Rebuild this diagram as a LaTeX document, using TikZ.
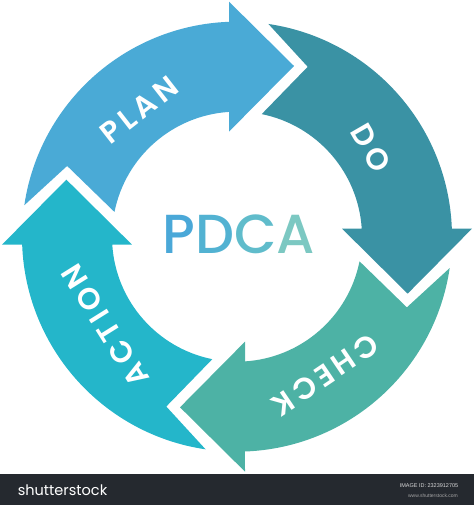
\documentclass[tikz,border=0pt]{standalone}
\usepackage{fontspec}
\newfontfamily\pop{Poppins}
\newfontfamily\popm{Poppins Medium}
\newfontfamily\popls{Poppins SemiBold}[LetterSpace=15]
\newfontfamily\libsans{Liberation Sans}
\definecolor{planc}{HTML}{4AAAD6}
\definecolor{doc}{HTML}{3A92A4}
\definecolor{checkc}{HTML}{4DB2A5}
\definecolor{actc}{HTML}{24B6CA}
\definecolor{pc}{HTML}{4AA8D8}
\definecolor{dc}{HTML}{52B2D2}
\definecolor{cc}{HTML}{60BCCB}
\definecolor{ac}{HTML}{7CC8C2}
\definecolor{barc}{HTML}{25292F}
\tikzset{
  lbl/.style={text=white, font=\popls\fontsize{30}{30}\selectfont, inner sep=0pt},
  bigtxt/.style={font=\popm\fontsize{55}{55}\selectfont, inner sep=0pt},
}
\begin{document}
\begin{tikzpicture}[x=1pt,y=1pt]
\useasboundingbox (-237,236.65) rectangle (237,-268.35);
\foreach \r/\c in {0/planc,-90/doc,-180/checkc,90/actc}{
  \fill[\c, rotate=\r] (171.6:215) arc[start angle=171.6,end angle=92.13,radius=215]
    -- (-8,235) -- (57,170.65) -- (-8,105) -- (93.67:125)
    arc[start angle=93.67,end angle=168.6,radius=125] -- (157.4:184) -- cycle;
}
\node[lbl, rotate=38] (plan) at (127.7:160) {PLAN};
\node[lbl, rotate=-60] (do) at (33.5:161) {DO};
\node[lbl, rotate=-146] (check) at (-57.5:164) {CHECK};
\node[lbl, rotate=122] (action) at (214:159) {ACTION};
\node[bigtxt] (pdca) at (2,2.65) {\textcolor{pc}{P}\textcolor{dc}{D}\textcolor{cc}{C}\textcolor{ac}{A}};
\fill[barc] (-237,-237.35) rectangle (237,-268.35);
\node[text=white, font=\pop\fontsize{14.5}{15}\selectfont, inner sep=0pt] (brand) at (-174.5,-253.35) {shutterstock};
\node[text=white!85!black, font=\libsans\fontsize{5.5}{6}\selectfont, inner sep=0pt] (imgid) at (192,-249.4) {IMAGE ID: 2323912705};
\node[text=white!65!black, font=\libsans\fontsize{5}{6}\selectfont, inner sep=0pt] (www) at (196,-259.4) {www.shutterstock.com};
\end{tikzpicture}
\end{document}
